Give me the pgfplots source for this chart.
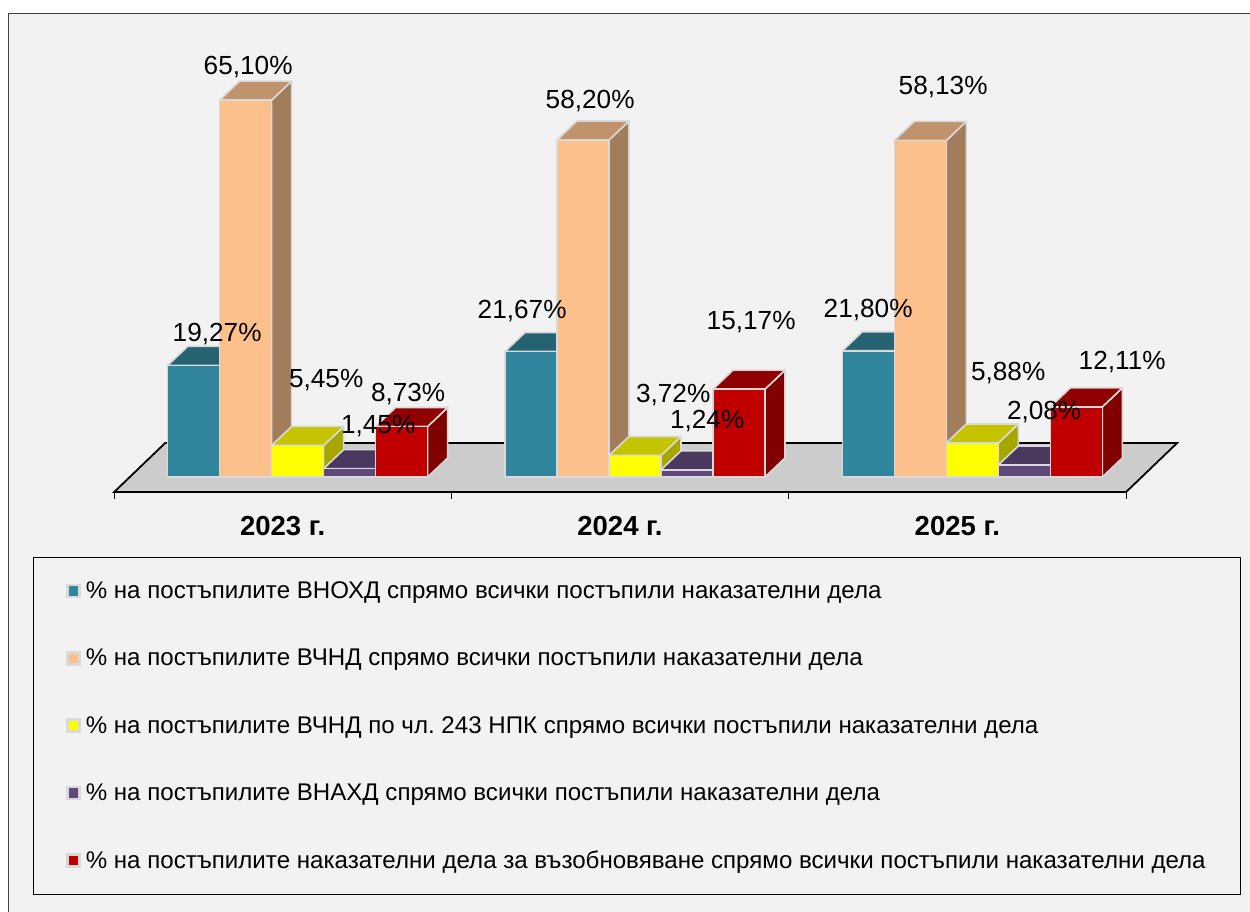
\documentclass[border=0pt]{standalone}
\usepackage{fontspec}
\setmainfont{Liberation Sans}
\usepackage{pgfplots}
\pgfplotsset{compat=1.18}
\frenchspacing
\definecolor{bg}{HTML}{F2F2F2}
\definecolor{bd}{HTML}{D9D9D9}
\definecolor{floorc}{HTML}{CCCCCC}
\definecolor{tealF}{HTML}{31859C}
\definecolor{tealT}{HTML}{256272}
\definecolor{tealS}{HTML}{1E5060}
\definecolor{peachF}{HTML}{FCC08C}
\definecolor{peachT}{HTML}{C0936D}
\definecolor{peachS}{HTML}{A17D5C}
\definecolor{yelF}{HTML}{FFFF00}
\definecolor{yelT}{HTML}{C4C400}
\definecolor{yelS}{HTML}{A6A600}
\definecolor{purF}{HTML}{5F497A}
\definecolor{purT}{HTML}{4A385F}
\definecolor{purS}{HTML}{3E2F50}
\definecolor{redF}{HTML}{C00000}
\definecolor{redT}{HTML}{900000}
\definecolor{redS}{HTML}{800000}
% side and top faces of one bar: group, shift (pt), value, top colour, side colour
\newcommand\faces[5]{%
  \pgfmathsetmacro\xL{#1+(#2-26)/337.333}%
  \pgfmathsetmacro\xR{#1+(#2+26)/337.333}%
  \pgfmathsetmacro\xA{\xL+20/337.333}%
  \pgfmathsetmacro\xB{\xR+20/337.333}%
  \pgfmathsetmacro\yT{#3+19/5.79}%
  \pgfmathsetmacro\yD{19/5.79}%
  \addplot[forget plot,mark=none,fill=#5,draw=bd,line width=1.6pt,line join=round]
    coordinates {(\xR,#3)(\xB,\yT)(\xB,\yD)(\xR,0)} --cycle;
  \addplot[forget plot,mark=none,fill=#4,draw=bd,line width=1.6pt,line join=round]
    coordinates {(\xL,#3)(\xR,#3)(\xB,\yT)(\xA,\yT)} --cycle;
}
% one series: shift, front, top, side, three values
\newcommand\series[7]{%
  \faces{0}{#1}{#5}{#3}{#4}%
  \faces{1}{#1}{#6}{#3}{#4}%
  \faces{2}{#1}{#7}{#3}{#4}%
  \addplot[ybar,bar width=52pt,bar shift=#1pt,fill=#2,draw=bd,line width=1.6pt]
    coordinates {(0,#5)(1,#6)(2,#7)};
}
\begin{document}
\begin{tikzpicture}
\path[use as bounding box] (0,0) rectangle (1250pt,912pt);
\fill[white] (0,0) rectangle (1250pt,912pt);
\fill[bg] (8pt,0pt) rectangle (1250pt,898pt);
\draw[black!75,line width=1pt] (8pt,0pt) -- (8pt,898pt) -- (1250pt,898pt);
\begin{axis}[
  at={(114pt,420pt)},anchor=south west,
  scale only axis,width=1012pt,height=420pt,
  xmin=-0.5,xmax=2.5,ymin=-2.5907,ymax=69.95,
  clip=false,
  axis x line=bottom,axis y line=none,
  axis line style={-,black,line width=2.2pt},
  xtick={0,1,2},xticklabels={2023 г.,2024 г.,2025 г.},
  minor xtick={-0.5,0.5,1.5,2.5},
  major tick length=0pt,minor tick length=7pt,
  tick align=outside,
  minor tick style={black,line width=0.8pt},
  xticklabel style={font=\fontsize{27.5}{32}\selectfont\bfseries,yshift=-21pt},
  legend image code/.code={\draw[#1,draw=bd,line width=2.4pt] (0pt,-6pt) rectangle (12pt,6pt);},
  legend cell align=left,
  legend style={
    at={(-0.08004,-0.15476)},anchor=north west,
    draw=black,line width=0.8pt,fill=bg,
    font=\fontsize{24.1}{28}\selectfont,
    inner xsep=33pt,inner ysep=22.5pt,
    /tikz/row sep=45pt,/tikz/column sep=3pt},
]
\addplot[forget plot,mark=none,fill=floorc,draw=black,line width=1.8pt]
  coordinates {(-0.4995,-2.5907)(-0.3483,5.87)(2.6516,5.87)(2.5004,-2.5907)} --cycle;
\addplot[forget plot,mark=none,black,line width=2.6pt]
  coordinates {(-0.4995,-2.5907)(2.5004,-2.5907)};
\series{-89}{tealF}{tealT}{tealS}{19.27}{21.67}{21.80}
\series{-37}{peachF}{peachT}{peachS}{65.10}{58.20}{58.13}
\series{15}{yelF}{yelT}{yelS}{5.45}{3.72}{5.88}
\series{67}{purF}{purT}{purS}{1.45}{1.24}{2.08}
\series{119}{redF}{redT}{redS}{8.73}{15.17}{12.11}
\addlegendentry{\% на постъпилите ВНОХД спрямо всички постъпили наказателни дела}
\addlegendentry{\% на постъпилите ВЧНД спрямо всички постъпили наказателни дела}
\addlegendentry{\% на постъпилите ВЧНД по чл. 243 НПК спрямо всички постъпили наказателни дела}
\addlegendentry{\% на постъпилите ВНАХД спрямо всички постъпили наказателни дела}
\addlegendentry{\% на постъпилите наказателни дела за възобновяване спрямо всички постъпили наказателни дела}
\addplot[forget plot,draw=none,mark=none,
  nodes near coords={\pgfplotspointmeta\%},
  nodes near coords style={anchor=center,inner sep=0pt,yshift=-1pt,font=\fontsize{26.2}{30}\selectfont,text=black},
  point meta=explicit symbolic]
  table[x=x,y=y,meta=lab] {
x y lab
-0.1023 70.98 65,10
-0.1942 24.87 19,27
0.1290 16.93 5,45
0.2831 8.98 1,45
0.3720 14.51 8,73
0.7100 28.84 21,67
0.9116 65.11 58,20
1.1576 14.34 3,72
1.2584 9.84 1,24
1.3888 26.94 15,17
1.7357 29.02 21,80
1.9580 67.53 58,13
2.1507 18.13 5,88
2.2574 11.40 2,08
2.4887 20.03 12,11
};
\end{axis}
\end{tikzpicture}
\end{document}
